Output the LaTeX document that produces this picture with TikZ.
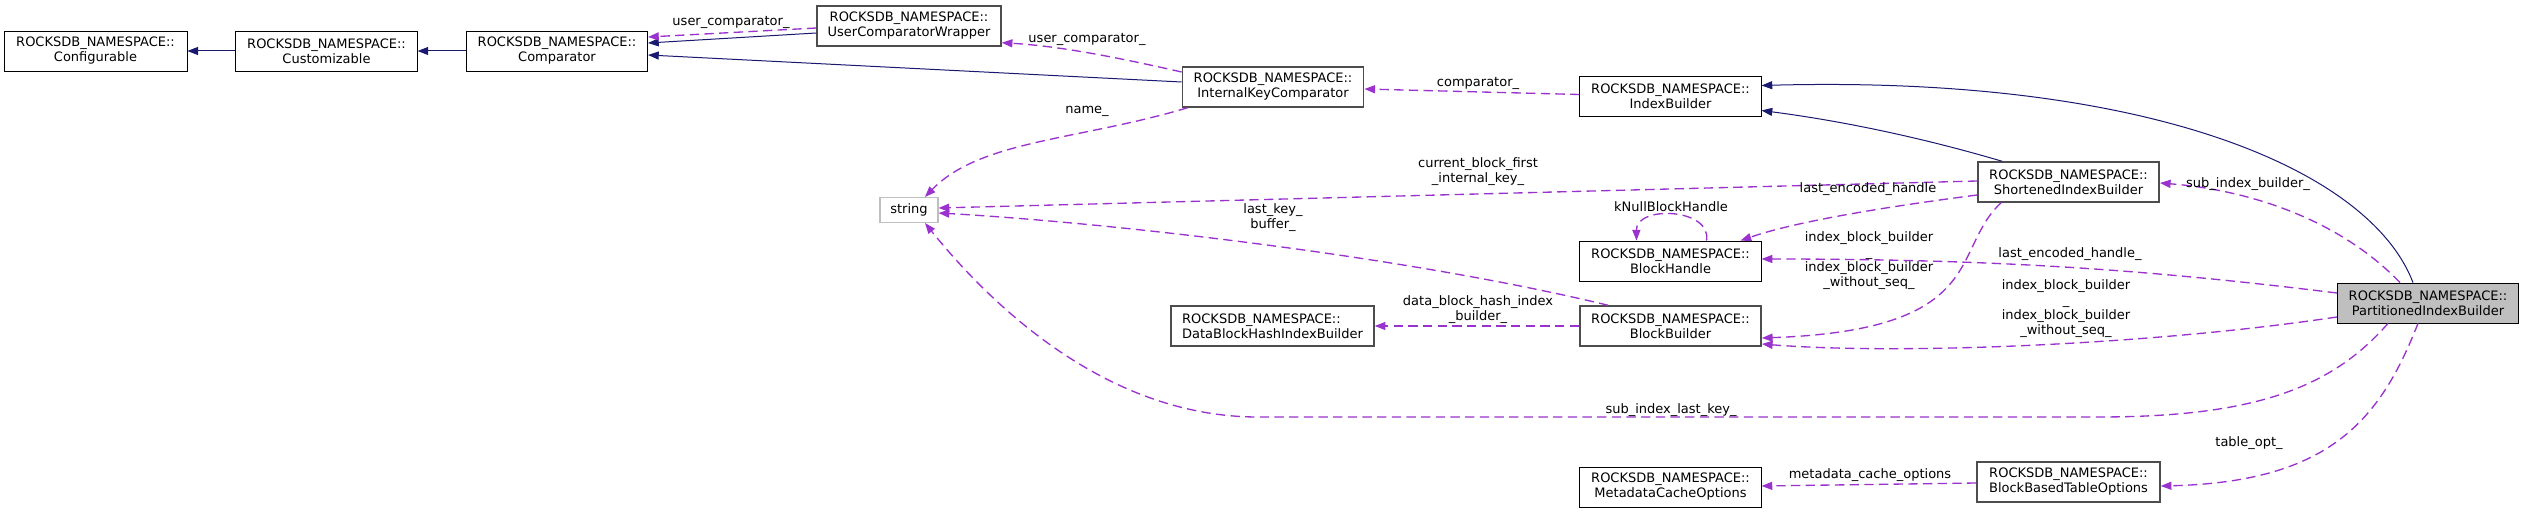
\documentclass[tikz,border=0pt]{standalone}
\usepackage{fontspec}
\setmainfont{DejaVu Sans}
\usetikzlibrary{arrows.meta,calc}
\definecolor{navy}{HTML}{191970}
\definecolor{purp}{HTML}{9A32CD}
\definecolor{bordgray}{HTML}{4D4D4D}
\definecolor{focusfill}{HTML}{BFBFBF}
\begin{document}
\begin{tikzpicture}[x=0.75pt,y=-0.75pt,
  every node/.style={font=\fontsize{9.75}{11.25}\selectfont},
  cls/.style={draw=black, line width=0.6pt, fill=white, minimum height=30pt, minimum width=136pt, inner sep=0pt, align=center},
  clsg/.style={cls, draw=bordgray, line width=1.1pt},
  ext/.style={draw=focusfill, line width=0.8pt, fill=white, minimum height=18.75pt, minimum width=43.5pt, inner sep=0pt},
  inh/.style={draw=navy, line width=0.75pt, -{Triangle[length=8pt,width=6pt,fill=navy]}},
  use/.style={draw=purp, line width=1pt, dash pattern=on 7pt off 4pt, -{Triangle[length=8pt,width=6pt,fill=purp]}},
  lbl/.style={inner sep=0pt, align=center}
]
\fill[white] (0,0) rectangle (2524,513);
\useasboundingbox (0,0) rectangle (2524,513);

% nodes
\node[cls, minimum width=137.25pt] (conf) at (95.5,51) {ROCKSDB\_NAMESPACE::\\Configurable};
\node[cls] (cust) at (326.5,51) {ROCKSDB\_NAMESPACE::\\Customizable};
\node[cls] (comp) at (557,51) {ROCKSDB\_NAMESPACE::\\Comparator};
\node[clsg, minimum width=138pt] (ucw) at (909,26) {ROCKSDB\_NAMESPACE::\\UserComparatorWrapper};
\node[clsg] (ikc) at (1273,87) {ROCKSDB\_NAMESPACE::\\InternalKeyComparator};
\node[cls] (ib) at (1670.5,96.5) {ROCKSDB\_NAMESPACE::\\IndexBuilder};
\node[clsg] (sib) at (2068.5,182) {ROCKSDB\_NAMESPACE::\\ShortenedIndexBuilder};
\node[ext] (str) at (909,210) {string};
\node[cls] (bh) at (1670.5,261) {ROCKSDB\_NAMESPACE::\\BlockHandle};
\node[clsg, minimum width=152.25pt, align=left] (dbhib) at (1272.5,326) {ROCKSDB\_NAMESPACE::\\DataBlockHashIndexBuilder};
\node[clsg] (bb) at (1670.5,326) {ROCKSDB\_NAMESPACE::\\BlockBuilder};
\node[cls, fill=focusfill] (pib) at (2428,303) {ROCKSDB\_NAMESPACE::\\PartitionedIndexBuilder};
\node[cls] (mco) at (1670.5,487) {ROCKSDB\_NAMESPACE::\\MetadataCacheOptions};
\node[clsg, minimum width=137.25pt] (bbto) at (2068.5,482) {ROCKSDB\_NAMESPACE::\\BlockBasedTableOptions};

% inheritance
\draw[inh] (cust.west) -- (conf.east);
\draw[inh] (comp.west) -- (cust.east);
\draw[inh] ($(ucw.west)+(0,7)$) -- ($(comp.east)+(0,-8)$);
\draw[inh] ($(ikc.west)+(0,-5)$) -- ($(comp.east)+(0,4)$);
\draw[inh] ($(sib.north west)+(25,0)$) .. controls (1930,140) and (1850,122) .. ($(ib.east)+(0,14)$);
\draw[inh] ($(pib.north)+(-15,0)$) .. controls (2370,170) and (2150,75) .. ($(ib.east)+(0,-11)$);

% usage
\draw[use] ($(ucw.west)+(0,2)$) -- ($(comp.east)+(0,-14)$);
\node[lbl] (l1) at (731,22) {user\_comparator\_};

\draw[use] ($(ikc.west)+(0,-15)$) .. controls (1120,58) and (1060,46) .. ($(ucw.south east)+(0,-4)$);
\node[lbl] (l2) at (1087,39) {user\_comparator\_};

\draw[use] ($(ib.west)+(0,-2)$) -- ($(ikc.east)+(0,2)$);
\node[lbl] (l3) at (1478,83) {comparator\_};

\draw[use] ($(ikc.south west)+(6,0)$) .. controls (1080,140) and (980,140) .. ($(str.north)+(16,0)$);
\node[lbl] (l4) at (1087,111) {name\_};

\draw[use] ($(sib.west)+(0,-1)$) -- ($(str.east)+(0,-2)$);
\node[lbl] (l5) at (1478,172) {current\_block\_first\\\_internal\_key\_};

\draw[use] ($(bb.north west)+(29,0)$) .. controls (1400,255) and (1100,222) .. ($(str.east)+(0,3)$);
\node[lbl] (l6) at (1273,218) {last\_key\_\\buffer\_};

\draw[use] ($(pib.south)+(-40,0)$) .. controls (2330,390) and (2250,417) .. (2098,417) -- (1258,417) .. controls (1110,417) and (995,310) .. ($(str.south)+(16,0)$);
\node[lbl] (l7) at (1671,410) {sub\_index\_last\_key\_};

\draw[use] ($(sib.west)+(0,13)$) .. controls (1900,205) and (1800,220) .. ($(bh.north east)+(-21,0)$);
\node[lbl] (l8) at (1868,189) {last\_encoded\_handle};

\draw[use] ($(bh.north)+(36,0)$) .. controls (1712,208) and (1636,205) .. ($(bh.north)+(-34,0)$);
\node[lbl] (l9) at (1671,207) {kNullBlockHandle};

\draw[use] ($(sib.south west)+(24,0)$) .. controls (1950,250) and (1990,330) .. ($(bb.east)+(0,12)$);
\node[lbl] (l10) at (1869,260.5) {index\_block\_builder\\\_\\index\_block\_builder\\\_without\_seq\_};

\draw[use] ($(pib.north)+(-28,0)$) .. controls (2340,220) and (2250,190) .. ($(sib.east)+(0,1)$);
\node[lbl] (l11) at (2248,184) {sub\_index\_builder\_};

\draw[use] ($(pib.west)+(0,-10)$) .. controls (2150,270) and (2000,259) .. ($(bh.east)+(0,-2)$);
\node[lbl] (l12) at (2070,254) {last\_encoded\_handle\_};

\draw[use] ($(pib.west)+(0,14)$) .. controls (2150,345) and (1900,355) .. ($(bb.east)+(0,18)$);
\node[lbl] (l13) at (2066,309) {index\_block\_builder\\\_\\index\_block\_builder\\\_without\_seq\_};

\draw[use] (bb.west) -- (dbhib.east);
\node[lbl] (l14) at (1478,310) {data\_block\_hash\_index\\\_builder\_};

\draw[use] ($(pib.south)+(-10,0)$) .. controls (2380,420) and (2330,482) .. ($(bbto.east)+(0,4)$);
\node[lbl] (l15) at (2249,443) {table\_opt\_};

\draw[use] ($(bbto.west)+(0,1)$) -- ($(mco.east)+(0,-1)$);
\node[lbl] (l16) at (1870,475) {metadata\_cache\_options};
\end{tikzpicture}
\end{document}
